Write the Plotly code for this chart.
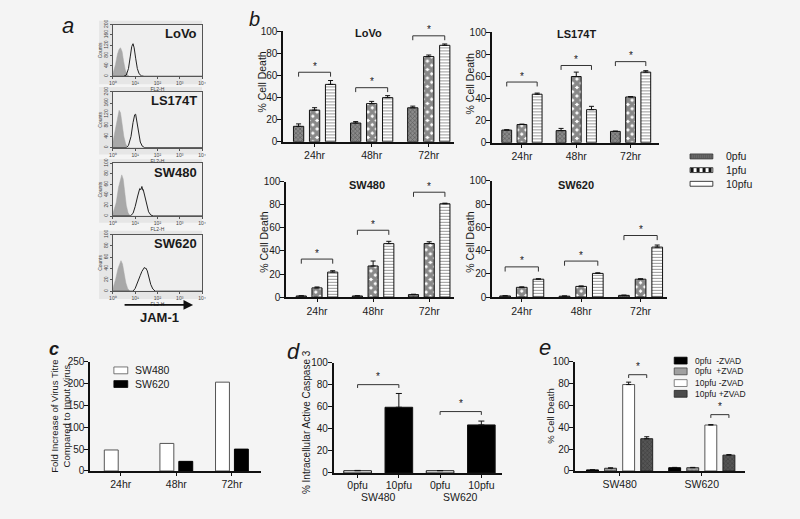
import plotly.graph_objects as go

W, H = 800, 519
FONT = "Arial, 'Liberation Sans', Helvetica, sans-serif"


def fx(p):
    return p / W


def fy(p):
    return 1 - p / H


# ---------------- DATA ----------------
# panel a : flow cytometry (FL2-H intensity vs counts)
hist_lines = ["LoVo", "LS174T", "SW480", "SW620"]
hist_ymax = [200, 200, 100, 100]
lovo_ctrl_x = [1.0, 1.3, 1.6, 1.9, 2.2, 2.6, 3.0, 3.6, 4.3, 5.5, 10000]
lovo_ctrl_y = [10, 45, 85, 105, 110, 95, 60, 25, 8, 0, 0]
lovo_jam_x = [1.0, 3.0, 4.0, 5.0, 6.0, 7.0, 8.0, 9.0, 10.5, 12.5, 15, 19, 25, 10000]
lovo_jam_y = [0, 0, 5, 30, 75, 115, 126, 110, 70, 30, 10, 2, 0, 0]
ls_ctrl_x = [1.0, 1.3, 1.6, 1.9, 2.2, 2.6, 3.1, 3.8, 4.8, 6.0, 10000]
ls_ctrl_y = [20, 70, 115, 134, 125, 85, 40, 12, 2, 0, 0]
ls_jam_x = [1.0, 4.0, 5.0, 6.5, 8.0, 9.5, 10.5, 12, 14, 17, 21, 27, 10000]
ls_jam_y = [0, 0, 8, 40, 90, 118, 120, 95, 55, 20, 5, 0, 0]
sw480_ctrl_x = [1.0, 1.4, 1.8, 2.2, 2.5, 2.9, 3.4, 4.0, 4.8, 6.0, 10000]
sw480_ctrl_y = [5, 25, 55, 72, 78, 70, 45, 20, 6, 0, 0]
sw480_jam_x = [1.0, 6, 8, 10, 13, 15, 16, 18, 20, 22, 23, 27, 32, 40, 50, 65, 10000]
sw480_jam_y = [0, 0, 5, 18, 38, 47, 52, 50, 56, 49, 50, 38, 22, 8, 2, 0, 0]
sw620_ctrl_x = [1.0, 1.3, 1.7, 2.0, 2.3, 2.7, 3.2, 3.8, 4.6, 5.8, 10000]
sw620_ctrl_y = [5, 20, 40, 50, 54, 48, 32, 15, 5, 0, 0]
sw620_jam_x = [1.0, 8, 10, 13, 17, 20, 22, 24, 26, 28, 30, 35, 42, 50, 62, 80, 10000]
sw620_jam_y = [0, 0, 5, 15, 28, 35, 38, 41, 42, 40, 41, 36, 24, 12, 4, 0, 0]

# panel b : % cell death
timepoints = ["24hr", "48hr", "72hr"]
doses = ["0pfu", "1pfu", "10pfu"]
lovo_0pfu = [14, 17, 30.8]
lovo_0pfu_sem = [2.2, 1.3, 1.5]
lovo_1pfu = [28.7, 34.6, 77.2]
lovo_1pfu_sem = [2.2, 2.0, 1.4]
lovo_10pfu = [52, 40, 87.4]
lovo_10pfu_sem = [3.5, 1.8, 1.2]
lovo_sig = [63, 49, 96]

ls174t_0pfu = [11.5, 11, 10.3]
ls174t_0pfu_sem = [0.3, 2.0, 0.3]
ls174t_1pfu = [16.5, 60, 41.5]
ls174t_1pfu_sem = [0.4, 4.0, 0.4]
ls174t_10pfu = [44, 30, 64]
ls174t_10pfu_sem = [1.0, 3.0, 1.3]
ls174t_sig = [55, 70, 73.5]

sw480_0pfu = [1, 1, 2.2]
sw480_0pfu_sem = [0.2, 0.2, 0.3]
sw480_1pfu = [8, 27, 46.5]
sw480_1pfu_sem = [0.8, 4.3, 1.5]
sw480_10pfu = [21.7, 46.4, 81]
sw480_10pfu_sem = [1.2, 2.0, 0.5]
sw480_sig = [33, 58, 91]

sw620_0pfu = [1, 0.8, 1.5]
sw620_0pfu_sem = [0.2, 0.2, 0.2]
sw620_1pfu = [8.4, 9.2, 15.4]
sw620_1pfu_sem = [0.4, 0.4, 0.4]
sw620_10pfu = [15.4, 20.4, 43]
sw620_10pfu_sem = [0.4, 0.5, 1.8]
sw620_sig = [26, 31, 53]

# panel c : fold increase of virus titre
titre_lines = ["SW480", "SW620"]
titre_sw480 = [48, 63, 203]
titre_sw620 = [None, 22, 50]

# panel d : % intracellular active caspase 3
casp_doses = ["0pfu", "10pfu", "0pfu", "10pfu"]
casp_groups = ["SW480", "SW620"]
casp_values = [2, 59.5, 2, 43.5]
casp_sem = [0.3, 12.5, 0.2, 3.5]
casp_sig = [80, 55.6]

# panel e : % cell death with ZVAD
zvad_lines = ["SW480", "SW620"]
zvad_conditions = ["0pfu\u00a0\u00a0-ZVAD", "0pfu\u00a0\u00a0+ZVAD", "10pfu\u00a0-ZVAD", "10pfu\u00a0+ZVAD"]
zvad_0pfu_minus = [1, 3]
zvad_0pfu_minus_sem = [0.2, 0.3]
zvad_0pfu_plus = [2.5, 3]
zvad_0pfu_plus_sem = [0.4, 0.3]
zvad_10pfu_minus = [79, 42]
zvad_10pfu_minus_sem = [2.2, 0.4]
zvad_10pfu_plus = [29.5, 14.5]
zvad_10pfu_plus_sem = [1.8, 0.5]
zvad_sig = [88, 51.5]

# ---------------- FIGURE ----------------
fig = go.Figure()
layout = {}
shapes = []
annotations = []

BG = "#f4f4f4"
TXT = "#1a1a1a"


def ann(x, y, text, size=12, xref="paper", yref="paper", **kw):
    d = dict(x=x, y=y, text=text, xref=xref, yref=yref, showarrow=False,
             xanchor="center", yanchor="middle",
             font=dict(family=FONT, size=size, color=TXT))
    d.update(kw)
    annotations.append(d)


def swatch(x0, x1, yc, h, fill, line_color="#222", lw=0.8, dash=None, dash_color="#111", dash_w=None):
    shapes.append(dict(type="rect", xref="paper", yref="paper", x0=fx(x0), x1=fx(x1),
                       y0=fy(yc + h / 2), y1=fy(yc - h / 2), fillcolor=fill,
                       line=dict(color=line_color, width=lw)))
    if dash:
        shapes.append(dict(type="line", xref="paper", yref="paper", x0=fx(x0 + 0.5), x1=fx(x1 - 0.5),
                           y0=fy(yc), y1=fy(yc), line=dict(color=dash_color, width=dash_w or h - 1, dash=dash)))


def yaxis_style(**kw):
    d = dict(showline=True, linecolor="#111", linewidth=1.6, ticks="outside", ticklen=4, tickcolor="#111",
             tickfont=dict(size=10, family=FONT, color=TXT), showgrid=False, zeroline=False,
             ticklabelstandoff=-2)
    d.update(kw)
    return d


def xaxis_style(**kw):
    d = dict(showline=True, linecolor="#111", linewidth=1.6, ticks="outside", ticklen=3, tickcolor="#111",
             tickfont=dict(size=10.5, family=FONT, color=TXT), showgrid=False, zeroline=False)
    d.update(kw)
    return d


# ---- panel a
hist_data = [(lovo_ctrl_x, lovo_ctrl_y, lovo_jam_x, lovo_jam_y),
             (ls_ctrl_x, ls_ctrl_y, ls_jam_x, ls_jam_y),
             (sw480_ctrl_x, sw480_ctrl_y, sw480_jam_x, sw480_jam_y),
             (sw620_ctrl_x, sw620_ctrl_y, sw620_jam_x, sw620_jam_y)]
hist_boxes = [(15, 80, 19, 72), (83, 152, 88, 145), (157, 222, 161, 215), (230, 300, 234, 292)]
for i, (name, ymax, dat, box) in enumerate(zip(hist_lines, hist_ymax, hist_data, hist_boxes)):
    n = i + 1
    bt, bb, pt, pb = box
    shapes.append(dict(type="rect", xref="paper", yref="paper", x0=fx(96), x1=fx(200),
                       y0=fy(bb), y1=fy(bt), fillcolor="#e6e6e6", line=dict(width=0), layer="below"))
    shapes.append(dict(type="rect", xref="paper", yref="paper", x0=fx(110), x1=fx(200),
                       y0=fy(pb), y1=fy(pt), fillcolor="#efefef", line=dict(width=0), layer="below"))
    cx, cy, jx, jy = dat
    fig.add_trace(go.Scatter(x=cx, y=cy, mode="lines", fill="tozeroy", fillcolor="#a8a8a8",
                             line=dict(color="#a8a8a8", width=0.5), xaxis=f"x{n}", yaxis=f"y{n}",
                             showlegend=False, hoverinfo="skip"))
    fig.add_trace(go.Scatter(x=jx, y=jy, mode="lines", line=dict(color="#222", width=1),
                             xaxis=f"x{n}", yaxis=f"y{n}", showlegend=False, hoverinfo="skip"))
    layout[f"xaxis{n}"] = dict(type="log", range=[0, 4], domain=[fx(110), fx(200)], anchor=f"y{n}",
                               showline=True, mirror=True, linecolor="#555", linewidth=0.8,
                               ticks="outside", ticklen=2, tickcolor="#555",
                               tickvals=[1, 10, 100, 1000, 10000],
                               ticktext=["10⁰", "10¹", "10²", "10³", "10⁴"],
                               tickfont=dict(size=5, family=FONT, color="#444"),
                               title=dict(text="FL2-H", font=dict(size=5, family=FONT, color="#444"), standoff=0),
                               showgrid=False, zeroline=False)
    layout[f"yaxis{n}"] = dict(range=[0, ymax], domain=[fy(pb), fy(pt)], anchor=f"x{n}",
                               showline=True, mirror=True, linecolor="#555", linewidth=0.8,
                               ticks="outside", ticklen=2, tickcolor="#555", dtick=ymax / 5,
                               tickangle=-90, tickfont=dict(size=5, family=FONT, color="#444"),
                               title=dict(text="Counts", font=dict(size=5, family=FONT, color="#444"), standoff=0),
                               showgrid=False, zeroline=False)
    ann(fx(197), fy(pt + 9), f"<b>{name}</b>", size=13, xanchor="right")

annotations.append(dict(x=fx(191), y=fy(306), xref="paper", yref="paper", ax=-70, ay=0,
                        showarrow=True, arrowhead=2, arrowsize=1.2, arrowwidth=1.6, arrowcolor="#111", text=""))
ann(fx(157), fy(319), "<b>JAM-1</b>", size=13)

# ---- panel b
dose_style = {
    "0pfu": dict(color="#7a7a7a", pattern=dict(shape="x", fgcolor="#2e2e2e", bgcolor="#8a8a8a", size=3, solidity=0.4)),
    "1pfu": dict(color="#ffffff", pattern=dict(shape="x", fgcolor="#111111", bgcolor="#ffffff", size=6, solidity=0.8)),
    "10pfu": dict(color="#ffffff", pattern=dict(shape="-", fgcolor="#333333", bgcolor="#ffffff", size=3, solidity=0.35)),
}
b_panels = [
    ("LoVo", [lovo_0pfu, lovo_1pfu, lovo_10pfu], [lovo_0pfu_sem, lovo_1pfu_sem, lovo_10pfu_sem], lovo_sig,
     (282, 455, 26, 139), [-0.55, 2.45], (261, 78), (368, 28)),
    ("LS174T", [ls174t_0pfu, ls174t_1pfu, ls174t_10pfu], [ls174t_0pfu_sem, ls174t_1pfu_sem, ls174t_10pfu_sem], ls174t_sig,
     (493, 662, 27, 140), [-0.55, 2.53], (471, 80), (578, 29)),
    ("SW480", [sw480_0pfu, sw480_1pfu, sw480_10pfu], [sw480_0pfu_sem, sw480_1pfu_sem, sw480_10pfu_sem], sw480_sig,
     (285, 455, 180, 298), [-0.55, 2.45], (263, 242), (367, 183)),
    ("SW620", [sw620_0pfu, sw620_1pfu, sw620_10pfu], [sw620_0pfu_sem, sw620_1pfu_sem, sw620_10pfu_sem], sw620_sig,
     (493, 670, 179, 298), [-0.5, 2.45], (471, 242), (578, 183)),
]
slot_b, w_b = 0.28, 0.18
xpos_b = list(range(len(timepoints)))
for k, (name, means, sems, sig, box, xr, tpos, npos) in enumerate(b_panels):
    n = 5 + k
    x0, x1, y0, y1 = box
    for j, dose in enumerate(doses):
        c = (j - 1) * slot_b
        st = dose_style[dose]
        fig.add_trace(go.Bar(
            x=xpos_b, y=means[j], width=w_b, offset=c - w_b / 2, name=dose,
            marker=dict(color=st["color"], pattern=st["pattern"], line=dict(color="#111", width=1)),
            error_y=dict(type="data", array=sems[j], arrayminus=[0] * len(sems[j]), symmetric=False,
                         color="#111", thickness=1, width=2.5),
            xaxis=f"x{n}", yaxis=f"y{n}", showlegend=False, hoverinfo="skip"))
    layout[f"xaxis{n}"] = xaxis_style(domain=[fx(x0), fx(x1)], range=xr, anchor=f"y{n}", tickvals=xpos_b,
                                      ticktext=timepoints)
    layout[f"yaxis{n}"] = yaxis_style(domain=[fy(y1), fy(y0)], range=[0, 100], anchor=f"x{n}", dtick=20)
    ann(fx(tpos[0]), fy(tpos[1]), "% Cell Death", size=10.5, textangle=-90)
    ann(fx(npos[0]), fy(npos[1]), f"<b>{name}</b>", size=11)
    for t, yb in enumerate(sig):
        xa, xb = t - slot_b, t + slot_b
        shapes.append(dict(type="path", xref=f"x{n}", yref=f"y{n}",
                           path=f"M {xa},{yb - 4} L {xa},{yb} L {xb},{yb} L {xb},{yb - 4}",
                           line=dict(color="#333", width=1)))
        ann(t, yb, "*", size=10, xref=f"x{n}", yref=f"y{n}", yshift=6)

# legend for panel b (drawn as swatches + text)
b_leg_rows = [154, 168, 182]
swatch(693, 716, b_leg_rows[0], 5, "#8a8a8a", dash="1px,1px", dash_color="#3a3a3a", dash_w=4)
swatch(693, 716, b_leg_rows[1], 5, "#ffffff", line_color="#111", dash="3px,3px", dash_color="#111", dash_w=4)
swatch(693, 716, b_leg_rows[2], 5, "#ffffff", line_color="#111")
for dose, yr in zip(doses, b_leg_rows):
    ann(fx(727), fy(yr), dose, size=10.5, xanchor="left")

# ---- panel c
n = 9
slot_c, w_c = 0.34, 0.25
xpos_c = list(range(len(timepoints)))
c_colors = ["#ffffff", "#000000"]
c_lines = ["#555555", "#000000"]
for j, (nm, vals) in enumerate(zip(titre_lines, [titre_sw480, titre_sw620])):
    c = (j - 0.5) * slot_c
    fig.add_trace(go.Bar(x=xpos_c, y=vals, width=w_c, offset=c - w_c / 2, name=nm,
                         marker=dict(color=c_colors[j], line=dict(color=c_lines[j], width=1)),
                         xaxis=f"x{n}", yaxis=f"y{n}", showlegend=False, hoverinfo="skip"))
layout[f"xaxis{n}"] = xaxis_style(domain=[fx(87), fx(260)], range=[-0.55, 2.53], anchor=f"y{n}",
                                  tickvals=xpos_c, ticktext=timepoints)
layout[f"yaxis{n}"] = yaxis_style(domain=[fy(476), fy(364)], range=[0, 250], anchor=f"x{n}", dtick=50)
ann(fx(57), fy(420), "Fold Increase of Virus Titre<br>Compared to Input Virus", size=9.5, textangle=-90)
for nm, yr, col, lc in zip(titre_lines, [373, 387], c_colors, c_lines):
    swatch(111, 125, yr, 7, col, line_color=lc)
    ann(fx(130), fy(yr), nm, size=10.5, xanchor="left")

# ---- panel d
n = 10
xpos_d = list(range(len(casp_doses)))
fig.add_trace(go.Bar(x=xpos_d, y=casp_values, width=0.67,
                     marker=dict(color=["#ffffff", "#000000", "#ffffff", "#000000"],
                                 line=dict(color="#111", width=1)),
                     error_y=dict(type="data", array=casp_sem, arrayminus=[0] * len(casp_sem), symmetric=False,
                                  color="#111", thickness=1, width=3),
                     xaxis=f"x{n}", yaxis=f"y{n}", showlegend=False, hoverinfo="skip"))
layout[f"xaxis{n}"] = xaxis_style(domain=[fx(333), fx(503)], range=[-0.58, 3.5], anchor=f"y{n}",
                                  tickvals=xpos_d, ticktext=casp_doses, ticklabelstandoff=-1)
layout[f"yaxis{n}"] = yaxis_style(domain=[fy(478), fy(365)], range=[0, 100], anchor=f"x{n}", dtick=20)
for g, (grp, yb) in enumerate(zip(casp_groups, casp_sig)):
    xa, xb = 2 * g, 2 * g + 1
    ann(xa + 0.5, fy(503), grp, size=10.5, xref=f"x{n}")
    shapes.append(dict(type="path", xref=f"x{n}", yref=f"y{n}",
                       path=f"M {xa},{yb - 3} L {xa},{yb} L {xb},{yb} L {xb},{yb - 3}",
                       line=dict(color="#333", width=1)))
    ann(xa + 0.5, yb, "*", size=10, xref=f"x{n}", yref=f"y{n}", yshift=8)
ann(fx(305), fy(426), "% Intracellular Active Caspase 3", size=10, textangle=-90)

# ---- panel e
n = 11
zvad_style = [
    dict(color="#000000", line=dict(color="#000", width=1)),
    dict(color="#9a9a9a", pattern=dict(shape="x", fgcolor="#555", bgcolor="#a5a5a5", size=3, solidity=0.35),
         line=dict(color="#333", width=1)),
    dict(color="#ffffff", line=dict(color="#555", width=1)),
    dict(color="#444444", pattern=dict(shape="x", fgcolor="#222", bgcolor="#555555", size=3, solidity=0.35),
         line=dict(color="#222", width=1)),
]
zvad_vals = [zvad_0pfu_minus, zvad_0pfu_plus, zvad_10pfu_minus, zvad_10pfu_plus]
zvad_sems = [zvad_0pfu_minus_sem, zvad_0pfu_plus_sem, zvad_10pfu_minus_sem, zvad_10pfu_plus_sem]
slot_e, w_e = 0.22, 0.145
xpos_e = list(range(len(zvad_lines)))
for j, (cond, vals, sems, st) in enumerate(zip(zvad_conditions, zvad_vals, zvad_sems, zvad_style)):
    c = (j - 1.5) * slot_e
    fig.add_trace(go.Bar(x=xpos_e, y=vals, width=w_e, offset=c - w_e / 2, name=cond, marker=st,
                         error_y=dict(type="data", array=sems, arrayminus=[0] * len(sems), symmetric=False,
                                      color="#111", thickness=1, width=2.5),
                         xaxis=f"x{n}", yaxis=f"y{n}", showlegend=False, hoverinfo="skip"))
layout[f"xaxis{n}"] = xaxis_style(domain=[fx(577), fx(748)], range=[-0.54, 1.52], anchor=f"y{n}",
                                  tickvals=xpos_e, ticktext=zvad_lines)
layout[f"yaxis{n}"] = yaxis_style(domain=[fy(476), fy(364)], range=[0, 100], anchor=f"x{n}", dtick=20)
for g, yb in enumerate(zvad_sig):
    xa, xb = g + 0.5 * slot_e, g + 1.5 * slot_e
    shapes.append(dict(type="path", xref=f"x{n}", yref=f"y{n}",
                       path=f"M {xa},{yb - 3} L {xa},{yb} L {xb},{yb} L {xb},{yb - 3}",
                       line=dict(color="#333", width=1)))
    ann(g + slot_e, yb, "*", size=10, xref=f"x{n}", yref=f"y{n}", yshift=8)
ann(fx(552), fy(420), "% Cell Death", size=9.5, textangle=-90)
e_leg_rows = [363, 374, 386, 397]
e_swatch = [("#000000", "#000"), ("#a0a0a0", "#444"), ("#ffffff", "#666"), ("#4a4a4a", "#222")]
for cond, yr, (fill, lc) in zip(zvad_conditions, e_leg_rows, e_swatch):
    swatch(677, 690, yr, 7, fill, line_color=lc)
    ann(fx(696), fy(yr), cond, size=8.5, xanchor="left")

# ---- panel letters
ann(fx(65), fy(20), "<i>a</i>", size=22)
ann(fx(253), fy(13), "<i>b</i>", size=20)
ann(fx(50), fy(351), "<b><i>c</i></b>", size=18)
ann(fx(292), fy(354), "<i>d</i>", size=22)
ann(fx(546), fy(350), "<i>e</i>", size=22)

layout.update(
    width=W, height=H, autosize=False,
    margin=dict(l=0, r=0, t=0, b=0),
    paper_bgcolor=BG, plot_bgcolor="rgba(0,0,0,0)",
    barmode="overlay",
    font=dict(family=FONT, color=TXT),
    shapes=shapes, annotations=annotations,
    showlegend=False,
)
fig.update_layout(**layout)
fig.write_html("out.html", config={"displayModeBar": False},
               post_script="document.body.style.margin='0';document.body.style.overflow='hidden';")
